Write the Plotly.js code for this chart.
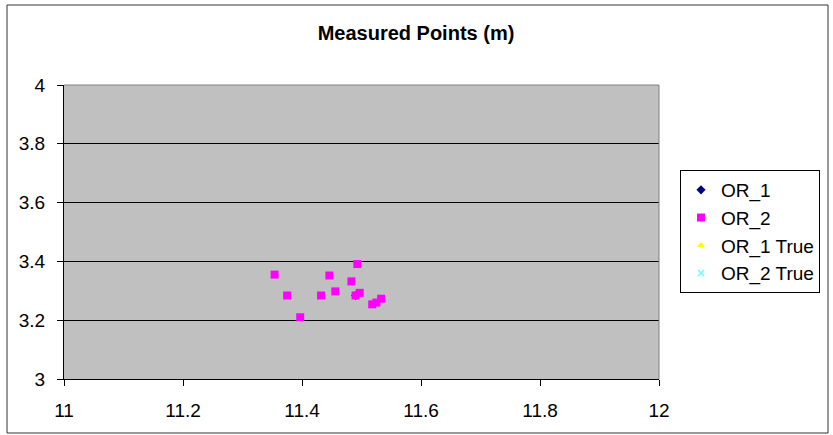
<!DOCTYPE html>
<html>
<head>
<meta charset="utf-8">
<script src="https://cdn.plot.ly/plotly-3.0.1.min.js"></script>
<style>html,body{margin:0;padding:0;background:#fff;}#chart{width:833px;height:435px;}</style>
</head>
<body>
<div id="chart"></div>
<script>
// Data
const seriesNames = ["OR_1", "OR_2", "OR_1 True", "OR_2 True"];
// OR_1 / true points are not visible in the picture (hidden under OR_2 markers)
const or1X = [11.490];
const or1Y = [3.284];
const or2X = [11.354, 11.375, 11.397, 11.432, 11.446, 11.456, 11.483, 11.493, 11.490, 11.497, 11.518, 11.525, 11.533];
const or2Y = [3.355, 3.284, 3.210, 3.284, 3.352, 3.298, 3.332, 3.391, 3.284, 3.293, 3.254, 3.260, 3.273];
const or1TrueX = [11.432];
const or1TrueY = [3.284];
const or2TrueX = [11.456];
const or2TrueY = [3.298];
const xTicks = [11, 11.2, 11.4, 11.6, 11.8, 12];
const yTicks = [3, 3.2, 3.4, 3.6, 3.8, 4];

const traces = [
  {x: or2TrueX, y: or2TrueY, name: seriesNames[3], type: "scatter", mode: "markers", legendrank: 4,
   marker: {symbol: "x-thin", size: 6, color: "#66FFFF", line: {color: "#66FFFF", width: 1.5}}},
  {x: or1X, y: or1Y, name: seriesNames[0], type: "scatter", mode: "markers", legendrank: 1,
   marker: {symbol: "diamond", size: 7, color: "#000080"}},
  {x: or1TrueX, y: or1TrueY, name: seriesNames[2], type: "scatter", mode: "markers", legendrank: 3,
   marker: {symbol: "triangle-up", size: 7, color: "#FFFF00"}},
  {x: or2X, y: or2Y, name: seriesNames[1], type: "scatter", mode: "markers", legendrank: 2,
   marker: {symbol: "square", size: 8, color: "#FF00FF"}}
];

const L = 64, R = 659, T = 85, B = 379, W = 833, H = 435;
const pw = R - L, ph = B - T;
const px = v => (v - L) / pw;
const py = v => (B - v) / ph;

const layout = {
  width: W, height: H,
  margin: {l: L, r: W - R, t: T, b: H - B, pad: 0, autoexpand: false},
  paper_bgcolor: "#ffffff",
  plot_bgcolor: "#C0C0C0",
  font: {family: "Liberation Sans, Arial, sans-serif", color: "#000", size: 19},
  title: {text: "<b>Measured Points (m)</b>", x: 416 / W, xref: "container", xanchor: "center", y: 1 - 33 / H, yanchor: "middle",
          font: {size: 20, family: "Liberation Sans, Arial, sans-serif", color: "#000"}},
  showlegend: true,
  legend: {x: px(680), xanchor: "left", y: py(170), yanchor: "top", bgcolor: "#fff",
           bordercolor: "#000", borderwidth: 1, font: {size: 19}, tracegroupgap: 0,
           itemwidth: 30, itemsizing: "trace"},
  xaxis: {range: [11, 12], tickvals: xTicks, ticktext: xTicks.map(String), showgrid: false,
          zeroline: false, showline: true, linecolor: "#000", linewidth: 1,
          ticks: "outside", ticklen: 6, tickcolor: "#000", ticklabelstandoff: 8, fixedrange: true},
  yaxis: {range: [3, 4], tickvals: yTicks, ticktext: yTicks.map(String), showgrid: true,
          gridcolor: "#000", gridwidth: 1, zeroline: false, showline: true, linecolor: "#000", linewidth: 1,
          ticks: "outside", ticklen: 6, tickcolor: "#000", ticklabelstandoff: 8, fixedrange: true},
  shapes: [
    {type: "rect", xref: "paper", yref: "paper", x0: px(7), x1: px(828), y0: py(433), y1: py(5),
     line: {color: "#333", width: 1}, layer: "below"},
    {type: "line", xref: "paper", yref: "paper", x0: 0, x1: 1, y0: 1, y1: 1, line: {color: "#808080", width: 1}},
    {type: "line", xref: "paper", yref: "paper", x0: 1, x1: 1, y0: 0, y1: 1, line: {color: "#808080", width: 1}}
  ]
};

Plotly.newPlot("chart", traces, layout, {displayModeBar: false, staticPlot: true});
</script>
</body>
</html>
